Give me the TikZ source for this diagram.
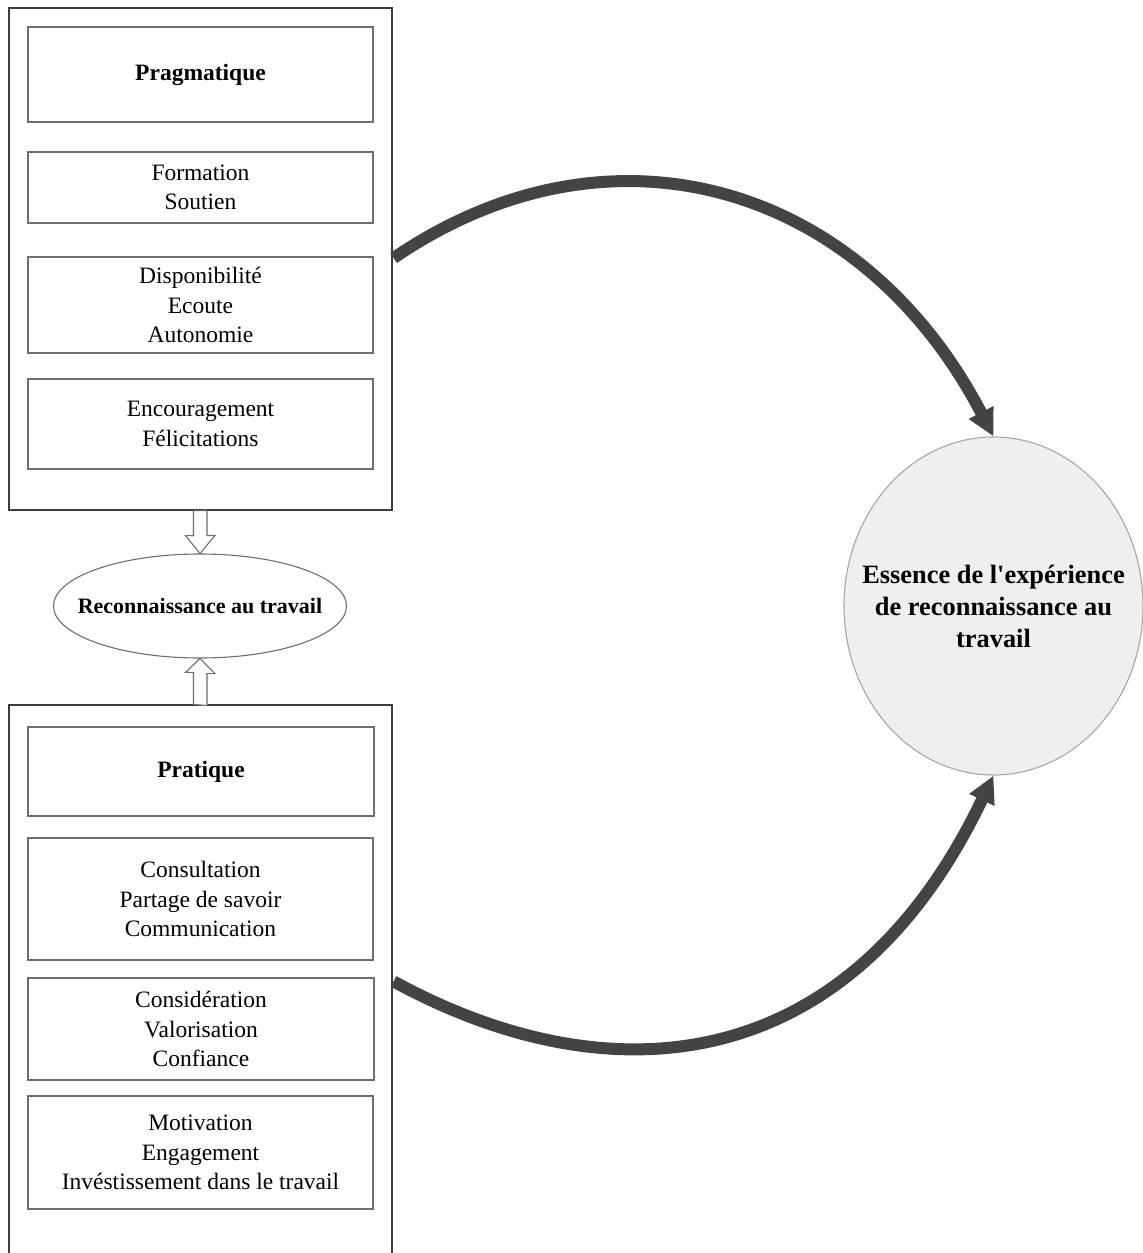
\documentclass[tikz,border=0pt]{standalone}
\usepackage{fontspec}
\setmainfont{Liberation Serif}[Ligatures=TeXOff]
\usetikzlibrary{arrows.meta,calc,shapes.geometric}
\definecolor{arcgray}{HTML}{444444}
\definecolor{boxgray}{HTML}{6E6E6E}
\definecolor{outergray}{HTML}{3C3C3C}
\definecolor{circfill}{HTML}{EFEFEF}
\definecolor{circline}{HTML}{A6A6A6}
\begin{document}
\begin{tikzpicture}[x=1pt,y=-1pt,
  outerbox/.style={draw=outergray,line width=1.2pt,minimum width=383pt,inner sep=0pt},
  itembox/.style={draw=boxgray,line width=1.3pt,minimum width=345pt,inner sep=0pt,align=center,
    font=\fontsize{23.5}{29.6}\selectfont},
  titlebox/.style={itembox,font=\fontsize{23.5}{29.6}\selectfont\bfseries},
  hollow/.style={draw=boxgray,line width=1.1pt,fill=white},
  bigarc/.style={draw=arcgray,line width=12pt,-{Triangle[width=26pt,length=27pt]}}]
\useasboundingbox (0,0) rectangle (1143,1253);
\fill[white] (0,0) rectangle (1143,1253);
% top group
\node[outerbox,minimum height=502pt] (outerTop) at (200.5,259) {};
\node[titlebox,minimum height=95pt] (prag) at (200.5,74.5) {Pragmatique};
\node[itembox,minimum height=71pt] (form) at (200.5,187.5) {Formation\\Soutien};
\node[itembox,minimum height=96pt] (dispo) at (200.5,305) {Disponibilité\\Ecoute\\Autonomie};
\node[itembox,minimum height=90pt] (enc) at (200.5,424) {Encouragement\\Félicitations};
% ellipse
\node[ellipse,draw=boxgray,line width=1.1pt,minimum width=293pt,minimum height=104pt,inner sep=0pt] (reco) at (200,606) {};
\node[font=\fontsize{22}{26}\selectfont\bfseries,inner sep=0pt] (recotext) at (reco.center) {Reconnaissance au travail};
% bottom group
\node[outerbox,minimum height=595pt] (outerBot) at (200.5,1002.5) {};
\node[titlebox,minimum height=89pt,minimum width=346pt] (prat) at (201,771.5) {Pratique};
\node[itembox,minimum height=122pt] (cons) at (200.5,899) {Consultation\\Partage de savoir\\Communication};
\node[itembox,minimum height=102pt,minimum width=346pt] (consid) at (201,1029) {Considération\\Valorisation\\Confiance};
\node[itembox,minimum height=113pt] (motiv) at (200.5,1152.5) {Motivation\\Engagement\\Invéstissement dans le travail};
% circle
\node[ellipse,draw=circline,fill=circfill,line width=1.1pt,minimum width=299pt,minimum height=338pt,inner sep=0pt] (essence) at (993.5,606) {};
\node[align=center,inner sep=0pt,font=\fontsize{26.4}{32}\selectfont\bfseries] (essencetext) at (essence.center)
  {Essence de l'expérience\\de reconnaissance au\\travail};
% hollow arrows
\path[hollow] ($(outerTop.south)+(-7,0)$) -- ++(0,25) -- ++(-8,0) -- (reco.north) -- ++(15,-18) -- ++(-8,0) -- ++(0,-25) -- cycle;
\path[hollow] ($(outerBot.north)+(-7,0)$) -- ++(0,-32) -- ++(-8,0) -- (reco.south) -- ++(15,15) -- ++(-8,0) -- ++(0,32) -- cycle;
% big arcs
\coordinate (t0) at ($(outerTop.east)+(1,-1)$);
\coordinate (b0) at ($(outerBot.north east)+(1,277)$);
\draw[bigarc] (t0) .. controls ($(t0)+(220,-150)$) and ($(essence.north)+(-130,-250)$) .. (essence.north);
\draw[bigarc] (b0) .. controls ($(b0)+(220,120)$) and ($(essence.south)+(-143,300)$) .. (essence.south);
\end{tikzpicture}
\end{document}
